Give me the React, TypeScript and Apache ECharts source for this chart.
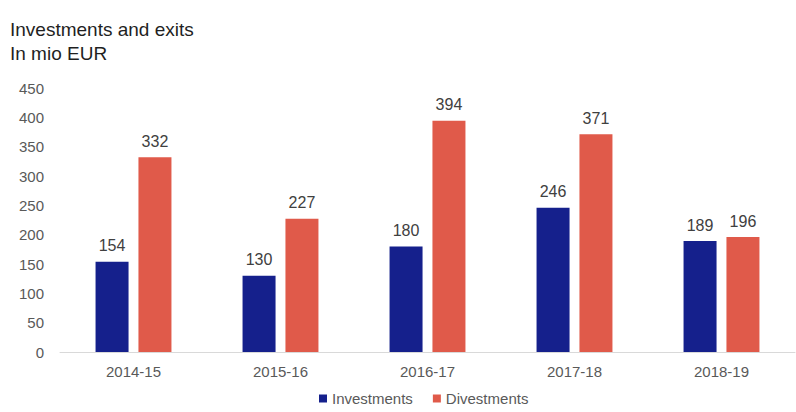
import React, { useEffect, useRef } from "react";
import * as echarts from "echarts";

const categories = ["2014-15", "2015-16", "2016-17", "2017-18", "2018-19"];
const investments = [154, 130, 180, 246, 189];
const divestments = [332, 227, 394, 371, 196];

export default function App() {
  const ref = useRef<HTMLDivElement>(null);
  useEffect(() => {
    document.body.style.margin = "0";
    const chart = echarts.init(ref.current!, null, { renderer: "svg" });
    const font = "Liberation Sans, Arial, sans-serif";
    chart.setOption({
      animation: false,
      backgroundColor: "#ffffff",
      textStyle: { fontFamily: font },
      title: {
        text: "Investments and exits\nIn mio EUR",
        left: 5,
        top: 12,
        textStyle: { fontSize: 19, fontWeight: "normal", color: "#1f1f1f", lineHeight: 24, fontFamily: font },
      },
      legend: {
        top: 389,
        left: 314,
        padding: [2, 5, 2, 5],
        itemWidth: 8,
        itemHeight: 8,
        itemGap: 20,
        icon: "rect",
        textStyle: { fontSize: 15, color: "#595959", fontFamily: font },
        data: ["Investments", "Divestments"],
      },
      grid: { left: 60, right: 1, top: 88, bottom: 60, containLabel: false },
      xAxis: {
        type: "category",
        data: categories,
        axisLine: { lineStyle: { color: "#d9d9d9" } },
        axisTick: { show: false },
        axisLabel: { color: "#595959", fontSize: 15, margin: 12, fontFamily: font },
      },
      yAxis: {
        type: "value",
        min: 0,
        max: 450,
        interval: 50,
        splitLine: { show: false },
        axisLine: { show: false },
        axisTick: { show: false },
        axisLabel: { color: "#595959", fontSize: 15, margin: 16, fontFamily: font },
      },
      series: [
        {
          name: "Investments",
          type: "bar",
          data: investments,
          barWidth: 33,
          barGap: "30%",
          itemStyle: { color: "#15208c" },
          label: { show: true, position: "top", distance: 8, color: "#404040", fontSize: 16, fontFamily: font },
        },
        {
          name: "Divestments",
          type: "bar",
          data: divestments,
          barWidth: 33,
          itemStyle: { color: "#e05a4a" },
          label: { show: true, position: "top", distance: 8, color: "#404040", fontSize: 16, fontFamily: font },
        },
      ],
    });
    return () => chart.dispose();
  }, []);
  return <div ref={ref} style={{ width: 796, height: 412 }} />;
}
